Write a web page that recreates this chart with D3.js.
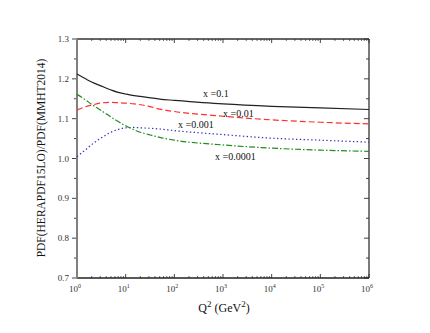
<!DOCTYPE html>
<html>
<head>
<meta charset="utf-8">
<script src="https://cdn.jsdelivr.net/npm/d3@7"></script>
<style>
  body { margin: 0; background: #fff; }
  svg { font-family: "Liberation Serif", "Times New Roman", serif; }
  .tick-label { font-size: 9px; fill: #333; }
</style>
</head>
<body>
<svg id="chart" width="430" height="333"></svg>
<script>
// Q^2 sample points (GeV^2)
var q2 = [1, 1.5, 2, 3, 5, 7, 10, 15, 20, 30, 50, 100, 1e3, 1e4, 1e5, 1e6];

var ratio01 = [1.212, 1.200, 1.192, 1.183, 1.172, 1.166, 1.162, 1.158, 1.156, 1.153, 1.149, 1.146, 1.137, 1.131, 1.127, 1.123];
var ratio001 = [1.122, 1.130, 1.134, 1.139, 1.141, 1.140, 1.139, 1.137, 1.135, 1.131, 1.124, 1.118, 1.106, 1.097, 1.091, 1.087];
var ratio0001 = [1.005, 1.022, 1.035, 1.050, 1.066, 1.073, 1.077, 1.078, 1.077, 1.076, 1.074, 1.070, 1.060, 1.051, 1.046, 1.041];
var ratio00001 = [1.161, 1.147, 1.136, 1.122, 1.104, 1.093, 1.082, 1.072, 1.066, 1.060, 1.053, 1.046, 1.034, 1.026, 1.021, 1.018];

var seriesNames = ["x =0.1", "x =0.01", "x =0.001", "x =0.0001"];
var yTicks = [0.7, 0.8, 0.9, 1.0, 1.1, 1.2, 1.3];
var xTickExp = [0, 1, 2, 3, 4, 5, 6];

var params = {
  plot: { x: 77, y: 39, width: 292, height: 239 }
};

var styles = [
  { color: "#222222", dash: null, label: [203, 97] },
  { color: "#ff3030", dash: "6,3", label: [223, 117] },
  { color: "#3030c0", dash: "1.4,2.4", label: [178, 128] },
  { color: "#228b22", dash: "6,2,1.5,2", label: [215, 160] }
];

var series = [ratio01, ratio001, ratio0001, ratio00001].map(function(vals, i) {
  return { name: seriesNames[i], values: vals.map(function(v, j) { return { q: q2[j], v: v }; }) };
});

var svg = d3.select("#chart");
var plot = svg.append("g").attr("transform", "translate(" + params.plot.x + "," + params.plot.y + ")");

var scale = {
  x: d3.scaleLog().domain([1, 1e6]).range([0, params.plot.width]),
  y: d3.scaleLinear().domain([0.7, 1.3]).range([params.plot.height, 0])
};

// minor ticks for log axis
var minorX = [];
for (var e = 0; e < 6; e++) {
  for (var m = 2; m <= 9; m++) minorX.push(m * Math.pow(10, e));
}
var minorY = d3.range(0.75, 1.3, 0.1);

var tickColor = "#444";

// bottom + top ticks (inward)
[params.plot.height, 0].forEach(function(y0, k) {
  var dir = k === 0 ? -1 : 1;
  plot.selectAll(null).data(xTickExp).enter().append("line")
    .attr("x1", function(d) { return scale.x(Math.pow(10, d)); })
    .attr("x2", function(d) { return scale.x(Math.pow(10, d)); })
    .attr("y1", y0).attr("y2", y0 + dir * 4)
    .attr("stroke", tickColor).attr("stroke-width", 1);
  plot.selectAll(null).data(minorX).enter().append("line")
    .attr("x1", function(d) { return scale.x(d); })
    .attr("x2", function(d) { return scale.x(d); })
    .attr("y1", y0).attr("y2", y0 + dir * 2)
    .attr("stroke", tickColor).attr("stroke-width", 0.8);
});

// left ticks (outward) and right ticks (inward)
[[0, -1], [params.plot.width, -1]].forEach(function(p) {
  plot.selectAll(null).data(yTicks).enter().append("line")
    .attr("x1", p[0]).attr("x2", p[0] + p[1] * 5)
    .attr("y1", function(d) { return scale.y(d); })
    .attr("y2", function(d) { return scale.y(d); })
    .attr("stroke", tickColor).attr("stroke-width", 1);
  plot.selectAll(null).data(minorY).enter().append("line")
    .attr("x1", p[0]).attr("x2", p[0] + p[1] * 3)
    .attr("y1", function(d) { return scale.y(d); })
    .attr("y2", function(d) { return scale.y(d); })
    .attr("stroke", tickColor).attr("stroke-width", 1);
});

// frame
plot.append("line").attr("x1", 0).attr("x2", params.plot.width).attr("y1", 0).attr("y2", 0)
  .attr("stroke", "#333").attr("stroke-width", 1.3);
plot.append("line").attr("x1", params.plot.width).attr("x2", params.plot.width)
  .attr("y1", 0).attr("y2", params.plot.height).attr("stroke", "#333").attr("stroke-width", 1.3);
plot.append("line").attr("x1", 0).attr("x2", params.plot.width)
  .attr("y1", params.plot.height).attr("y2", params.plot.height)
  .attr("stroke", "#222").attr("stroke-width", 1.5);
plot.append("line").attr("x1", 0).attr("x2", 0).attr("y1", 0).attr("y2", params.plot.height)
  .attr("stroke", "#808080").attr("stroke-width", 2);

// y tick labels
plot.selectAll(null).data(yTicks).enter().append("text")
  .attr("class", "tick-label")
  .attr("x", -8)
  .attr("y", function(d) { return scale.y(d) + 3; })
  .attr("text-anchor", "end")
  .text(function(d) { return d.toFixed(1); });

// x tick labels 10^n
var xl = plot.selectAll(null).data(xTickExp).enter().append("text")
  .attr("class", "tick-label")
  .attr("x", function(d) { return scale.x(Math.pow(10, d)) - 2; })
  .attr("y", params.plot.height + 14)
  .attr("text-anchor", "middle");
xl.append("tspan").text("10");
xl.append("tspan").attr("dy", -4).style("font-size", "6px").text(function(d) { return d; });

// curves
var line = d3.line()
  .x(function(d) { return scale.x(d.q); })
  .y(function(d) { return scale.y(d.v); })
  .curve(d3.curveMonotoneX);

plot.selectAll("path.curve").data(series).enter().append("path")
  .attr("class", "curve")
  .attr("d", function(d) { return line(d.values); })
  .attr("fill", "none")
  .attr("stroke", function(d, i) { return styles[i].color; })
  .attr("stroke-width", 1.2)
  .attr("stroke-dasharray", function(d, i) { return styles[i].dash; });

// curve labels
svg.selectAll("text.curve-label").data(series).enter().append("text")
  .attr("class", "curve-label")
  .attr("x", function(d, i) { return styles[i].label[0]; })
  .attr("y", function(d, i) { return styles[i].label[1]; })
  .style("font-size", "10px")
  .attr("fill", "#111")
  .text(function(d) { return d.name; });

// axis titles
var xt = svg.append("text")
  .attr("x", 224).attr("y", 312)
  .attr("text-anchor", "middle")
  .style("font-size", "12px").attr("fill", "#111");
xt.append("tspan").text("Q");
xt.append("tspan").attr("dy", -5).style("font-size", "9px").text("2");
xt.append("tspan").attr("dy", 5).text(" (GeV");
xt.append("tspan").attr("dy", -5).style("font-size", "9px").text("2");
xt.append("tspan").attr("dy", 5).text(")");

svg.append("text")
  .attr("transform", "translate(45,158) rotate(-90)")
  .attr("text-anchor", "middle")
  .style("font-size", "11.5px").attr("fill", "#111")
  .text("PDF(HERAPDF15LO)/PDF(MMHT2014)");
</script>
</body>
</html>
